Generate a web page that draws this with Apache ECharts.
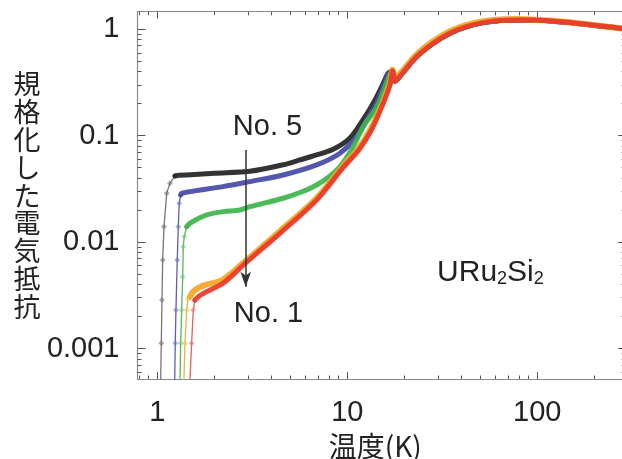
<!DOCTYPE html>
<html><head><meta charset="utf-8">
<script src="https://cdn.jsdelivr.net/npm/echarts@6/dist/echarts.min.js"></script>
<style>html,body{margin:0;padding:0;background:#fff}#c{width:622px;height:459px}</style>
</head><body><div id="c"></div>
<script>
// ---- axis ticks / labels ----
const xMajorTicks = [1, 10, 100];
const xTickLabels = ['1', '10', '100'];
const xMinorTicks = [0.8, 0.9, 2, 3, 4, 5, 6, 7, 8, 9, 20, 30, 40, 50, 60, 70, 80, 90, 200];
const yMajorTicks = [0.001, 0.01, 0.1, 1];
const yTickLabels = ['0.001', '0.01', '0.1', '1'];
const yMinorTicks = [0.0006, 0.0007, 0.0008, 0.0009, 0.002, 0.003, 0.004, 0.005, 0.006, 0.007, 0.008, 0.009,
  0.02, 0.03, 0.04, 0.05, 0.06, 0.07, 0.08, 0.09, 0.2, 0.3, 0.4, 0.5, 0.6, 0.7, 0.8, 0.9];

// ---- common high-temperature part (above the 17.5 K transition) ----
const highT = [17.3, 17.9, 18.9, 23.2, 28.4, 34.7, 42.5, 52.0, 63.7, 77.9, 95.3, 116.7, 142.8, 174.7, 213.8, 272.7, 300];
const highR = [0.405, 0.325, 0.36, 0.553, 0.739, 0.917, 1.058, 1.153, 1.205, 1.223, 1.223, 1.197, 1.164, 1.121, 1.074, 1.022, 1.0];
const orangeHighR = [0.415, 0.34, 0.38, 0.58, 0.775, 0.96, 1.1, 1.19, 1.235, 1.245, 1.235, 1.205, 1.168, 1.123, 1.075, 1.022, 1.0];

// ---- No.5 (black) ----
const blackDropT = [1.042, 1.05, 1.059, 1.068, 1.085, 1.121, 1.166, 1.239];
const blackDropR = [0.0005, 0.00112, 0.00286, 0.00679, 0.01395, 0.0288, 0.0357, 0.0418];
const blackT = [1.239, 1.3, 1.5, 2.0, 3.07, 4.6, 5.64, 6.9, 8.44, 10.3, 12.1, 13.7, 15.5, 16.4];
const blackR = [0.0418, 0.0425, 0.0429, 0.0443, 0.0462, 0.0532, 0.0591, 0.0659, 0.0745, 0.0945, 0.1405, 0.2015, 0.311, 0.386];

// ---- No.4 (blue) ----
const blueDropT = [1.235, 1.244, 1.254, 1.274, 1.29, 1.305, 1.328];
const blueDropR = [0.0005, 0.00112, 0.0023, 0.00679, 0.01395, 0.0232, 0.0277];
const blueT = [1.328, 1.344, 1.486, 2.22, 3.07, 4.6, 6.9, 9.15, 11.2, 12.65, 14.2, 15.6, 16.5];
const blueR = [0.0277, 0.0287, 0.0298, 0.0332, 0.037, 0.0427, 0.0531, 0.0684, 0.098, 0.1405, 0.2, 0.3, 0.38];

// ---- No.3 (green) ----
const greenDropT = [1.317, 1.328, 1.344, 1.361, 1.37, 1.387, 1.428];
const greenDropR = [0.0005, 0.00112, 0.0023, 0.00473, 0.00906, 0.01125, 0.01395];
const greenT = [1.428, 1.486, 1.82, 2.22, 2.72, 3.07, 4.6, 5.64, 6.9, 8.11, 9.15, 10.75, 12.14, 14.3, 15.8, 16.7];
const greenR = [0.01395, 0.01503, 0.01798, 0.0193, 0.02, 0.0215, 0.0258, 0.0292, 0.0344, 0.0418, 0.0511, 0.0788, 0.1215, 0.187, 0.289, 0.37];

// ---- No.2 (orange) ----
const orangeDropT = [1.381, 1.399, 1.428, 1.45, 1.486];
const orangeDropR = [0.0005, 0.00112, 0.0023, 0.0029, 0.00307];
const orangeT = [1.486, 1.547, 1.746, 2.2, 2.9, 4.4, 6.85, 9.5, 11.4, 13.3, 15.1, 16.7];
const orangeR = [0.00307, 0.00342, 0.0039, 0.0044, 0.0066, 0.0126, 0.0256, 0.052, 0.075, 0.116, 0.19, 0.31];

// ---- No.1 (red) ----
const redDropT = [1.486, 1.517, 1.547, 1.579];
const redDropR = [0.0005, 0.00112, 0.0023, 0.00285];
const redT = [1.579, 1.644, 1.82, 2.22, 2.9, 4.42, 6.9, 9.6, 11.5, 13.4, 15.2, 16.8];
const redR = [0.00285, 0.00307, 0.00342, 0.0041, 0.0063, 0.0121, 0.0249, 0.0511, 0.0734, 0.113, 0.187, 0.3];

// ---- annotations (data coordinates) ----
const arrowT = 2.92, arrowTopR = 0.0734, arrowTipR = 0.0038;
const no5Anchor = [2.5, 0.1206];
const no1Anchor = [2.53, 0.00213];
const compoundAnchor = [29.7, 0.0051];

const xMin = 0.787, xMax = 290, yMin = 0.000517, yMax = 1.46;

function pts(T, R) { return T.map((t, i) => [t, R[i]]); }
function lab(ticks, labels) {
  return v => { const i = ticks.findIndex(t => Math.abs(Math.log10(t) - Math.log10(v)) < 1e-6); return i >= 0 ? labels[i] : ''; };
}
const lg = a => a.map(v => Math.log10(v));
const numFont = '"Liberation Sans", Arial, sans-serif';
const cjkFont = '"Noto Sans CJK JP", sans-serif';
const lineCol = '#8a8a8a', tickCol = '#555';

// main log axes: carry the series, the line, labels and name
const xMain = {
  type: 'log', logBase: 10, min: xMin, max: xMax, position: 'bottom', gridIndex: 0,
  axisLine: { show: true, onZero: false, lineStyle: { color: lineCol, width: 1.2 } },
  axisTick: { show: false },
  axisLabel: { show: true, formatter: lab(xMajorTicks, xTickLabels), margin: 19, fontSize: 29, fontFamily: numFont, color: '#222' },
  splitLine: { show: false }, minorTick: { show: false },
  name: '温度(K)', nameLocation: 'middle', nameGap: 53,
  nameTextStyle: { fontFamily: cjkFont, fontSize: 28, color: '#222', padding: [0, 12, 0, 0] }
};
const yMain = {
  type: 'log', logBase: 10, min: yMin, max: yMax, position: 'left', gridIndex: 0,
  axisLine: { show: true, onZero: false, lineStyle: { color: lineCol, width: 1.2 } },
  axisTick: { show: false },
  axisLabel: { show: true, formatter: lab(yMajorTicks, yTickLabels), margin: 18, fontSize: 29, fontFamily: numFont, color: '#222' },
  splitLine: { show: false }, minorTick: { show: false },
  name: '規\n格\n化\nし\nた\n電\n気\n抵\n抗', nameLocation: 'middle', nameRotate: 0, nameGap: 97,
  nameTextStyle: { fontFamily: cjkFont, fontSize: 27, lineHeight: 27.8, color: '#222', align: 'right' }
};
// tick-only axes (value axes over log10 of the same extent)
function tickAx(dim, pos, ticks, len, showLine) {
  const lo = dim === 'x' ? xMin : yMin, hi = dim === 'x' ? xMax : yMax;
  return {
    type: 'value', min: Math.log10(lo), max: Math.log10(hi), position: pos, gridIndex: 0,
    axisLine: { show: showLine, onZero: false, lineStyle: { color: lineCol, width: 1.2 } },
    axisTick: { show: true, inside: true, length: len, customValues: lg(ticks), lineStyle: { color: tickCol, width: 1 } },
    axisLabel: { show: false }, splitLine: { show: false }, minorTick: { show: false }
  };
}

function mainSeries(name, T, R, color, width) {
  return { type: 'line', name, data: pts(T, R), xAxisIndex: 0, yAxisIndex: 0, showSymbol: false, smooth: 0.3,
    lineStyle: { color, width, opacity: 0.92, cap: 'round', join: 'round' }, z: 3 };
}
function dropSeries(name, T, R, lineColor, symColor) {
  return { type: 'line', name: name + ' drop', data: pts(T, R), xAxisIndex: 0, yAxisIndex: 0, symbol: 'diamond', symbolSize: 6,
    showSymbol: true, lineStyle: { color: lineColor, width: 1.3 }, itemStyle: { color: symColor }, z: 2 };
}

const chart = echarts.init(document.getElementById('c'), null, { renderer: 'canvas' });
const series = [
  dropSeries('No.5', blackDropT, blackDropR, '#777', 'rgba(110,110,110,0.55)'),
  dropSeries('No.4', blueDropT, blueDropR, '#5a5fb0', 'rgba(110,115,190,0.55)'),
  dropSeries('No.3', greenDropT, greenDropR, '#52b85a', 'rgba(110,200,110,0.55)'),
  dropSeries('No.2', orangeDropT, orangeDropR, '#f0b040', 'rgba(245,190,90,0.6)'),
  dropSeries('No.1', redDropT, redDropR, '#e06060', 'rgba(230,120,120,0.6)'),
  mainSeries('No.5', blackT.concat(highT), blackR.concat(highR), '#222222', 5),
  mainSeries('No.4', blueT.concat(highT), blueR.concat(highR), '#4549a6', 5),
  mainSeries('No.3', greenT.concat(highT), greenR.concat(highR), '#3cb44a', 5),
  mainSeries('No.2', orangeT.concat(highT), orangeR.concat(orangeHighR), '#f5a623', 6),
  Object.assign(mainSeries('No.1', redT.concat(highT), redR.concat(highR), '#e8372c', 5), {
    markLine: { silent: true, symbol: ['none', 'arrow'], symbolSize: [8, 15], animation: false,
      lineStyle: { color: '#333', width: 1.5, type: 'solid', opacity: 1 }, label: { show: false },
      data: [[{ coord: [arrowT, arrowTopR] }, { coord: [arrowT, arrowTipR] }]] }
  })
];

chart.setOption({
  animation: false,
  backgroundColor: '#fff',
  grid: { left: 137.5, top: 11.7, right: -3.1, bottom: 80, containLabel: false, outerBoundsMode: 'none' },
  xAxis: [xMain,
          tickAx('x', 'bottom', xMajorTicks, 7, false), tickAx('x', 'bottom', xMinorTicks, 3.5, false),
          tickAx('x', 'top', xMajorTicks, 7, true), tickAx('x', 'top', xMinorTicks, 3.5, false)],
  yAxis: [yMain,
          tickAx('y', 'left', yMajorTicks, 8, false), tickAx('y', 'left', yMinorTicks, 4, false),
          tickAx('y', 'right', yMajorTicks, 7, true), tickAx('y', 'right', yMinorTicks, 3.5, false)],
  series
});

const p5 = chart.convertToPixel({ seriesIndex: 5 }, no5Anchor);
const p1 = chart.convertToPixel({ seriesIndex: 5 }, no1Anchor);
const pc = chart.convertToPixel({ seriesIndex: 5 }, compoundAnchor);
chart.setOption({
  graphic: [
    { type: 'text', x: p5[0], y: p5[1], z: 10, style: { text: 'No. 5', fontSize: 29, fontFamily: numFont, fill: '#222', align: 'left', verticalAlign: 'middle' } },
    { type: 'text', x: p1[0], y: p1[1], z: 10, style: { text: 'No. 1', fontSize: 29, fontFamily: numFont, fill: '#222', align: 'left', verticalAlign: 'middle' } },
    { type: 'text', x: pc[0], y: pc[1], z: 10, style: { text: '{a|URu}{b|2}{a|Si}{b|2}', fill: '#222', align: 'left', verticalAlign: 'middle',
      rich: { a: { fontSize: 30, fontFamily: numFont, fill: '#222', verticalAlign: 'bottom' },
              b: { fontSize: 18, fontFamily: numFont, fill: '#222', verticalAlign: 'bottom' } } } }
  ]
});
</script></body></html>
